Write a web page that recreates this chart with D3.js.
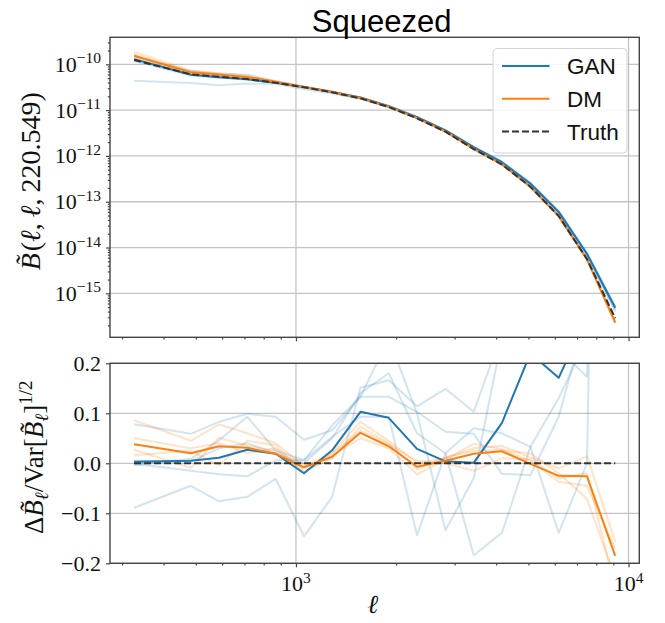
<!DOCTYPE html>
<html><head><meta charset="utf-8">
<script src="https://cdn.jsdelivr.net/npm/d3@7"></script>
<style>body{margin:0;background:#fff}</style>
</head><body>
<svg id="c" width="665" height="623"></svg>
<script>
// ---------------- DATA ----------------
const ell = [326, 483, 587, 714, 869, 1057, 1285, 1563, 1901, 2312, 2815, 3423, 4163, 5068, 6166, 7499, 9120];

const truthB = [1.24e-10, 6.05e-11, 5.36e-11, 4.77e-11, 3.97e-11, 3.15e-11, 2.45e-11, 1.81e-11, 1.17e-11, 6.63e-12, 3.38e-12, 1.41e-12, 6.49e-13, 2.13e-13, 4.88e-14, 5.61e-15, 2.85e-16];
const ganB   = [1.30e-10, 5.9e-11, 5.2e-11, 4.7e-11, 3.95e-11, 3.2e-11, 2.5e-11, 1.88e-11, 1.22e-11, 7.0e-12, 3.6e-12, 1.55e-12, 7.3e-13, 2.5e-13, 6.0e-14, 7.3e-15, 4.85e-16];
const dmB    = [1.54e-10, 6.7e-11, 6.0e-11, 5.3e-11, 4.15e-11, 3.2e-11, 2.48e-11, 1.84e-11, 1.19e-11, 6.7e-12, 3.42e-12, 1.43e-12, 6.55e-13, 2.13e-13, 4.85e-14, 5.5e-15, 2.3e-16];

const ganRealB1 = [4.4e-11, 3.9e-11, 3.5e-11, 3.8e-11, 3.75e-11, 2.85e-11, 2.3e-11, 1.75e-11, 1.15e-11, 6.8e-12, 3.5e-12, 1.5e-12, 7.0e-13, 2.4e-13, 5.6e-14, 6.5e-15, 4.0e-16];
const ganRealB2 = [1.5e-10, 7.2e-11, 6.3e-11, 5.9e-11, 4.3e-11, 3.3e-11, 2.55e-11, 1.9e-11, 1.25e-11, 7.2e-12, 3.7e-12, 1.6e-12, 7.6e-13, 2.6e-13, 6.3e-14, 7.8e-15, 5.2e-16];
const ganRealB3 = [1.35e-10, 6.2e-11, 5.6e-11, 5.0e-11, 4.0e-11, 3.2e-11, 2.5e-11, 1.86e-11, 1.2e-11, 6.9e-12, 3.55e-12, 1.52e-12, 7.2e-13, 2.45e-13, 5.8e-14, 7.0e-15, 4.6e-16];
const ganRealB4 = [1.2e-10, 5.7e-11, 5.1e-11, 4.6e-11, 3.9e-11, 3.1e-11, 2.42e-11, 1.8e-11, 1.18e-11, 6.8e-12, 3.5e-12, 1.5e-12, 7.0e-13, 2.4e-13, 5.7e-14, 6.8e-15, 4.4e-16];

const dmRealB1 = [1.9e-10, 7.3e-11, 6.3e-11, 5.6e-11, 4.3e-11, 3.25e-11, 2.5e-11, 1.85e-11, 1.2e-11, 6.7e-12, 3.4e-12, 1.42e-12, 6.5e-13, 2.12e-13, 4.8e-14, 5.4e-15, 2.2e-16];
const dmRealB2 = [1.7e-10, 6.9e-11, 6.1e-11, 5.4e-11, 4.2e-11, 3.2e-11, 2.47e-11, 1.83e-11, 1.18e-11, 6.6e-12, 3.4e-12, 1.42e-12, 6.5e-13, 2.14e-13, 4.9e-14, 5.6e-15, 2.6e-16];
const dmRealB3 = [1.45e-10, 6.4e-11, 5.8e-11, 5.1e-11, 4.05e-11, 3.15e-11, 2.45e-11, 1.81e-11, 1.17e-11, 6.6e-12, 3.38e-12, 1.41e-12, 6.45e-13, 2.1e-13, 4.8e-14, 5.5e-15, 2.4e-16];

// normalized residuals (bottom panel)
const ganRes = [0.003, 0.005, 0.011, 0.027, 0.019, -0.020, 0.026, 0.103, 0.091, 0.029, 0.004, 0.001, 0.081, 0.22, 0.171, 0.294, 0.42];
const dmRes  = [0.038, 0.020, 0.034, 0.031, 0.019, -0.008, 0.013, 0.061, 0.034, -0.007, 0.005, 0.019, 0.024, -0.001, -0.025, -0.026, -0.185];

const ganRealRes1 = [0.078, 0.059, 0.083, 0.099, 0.093, 0.047, 0.066, 0.133, 0.133, 0.103, 0.063, 0.059, -0.021, -0.024, 0.093, 0.30, 0.60];
const ganRealRes2 = [-0.089, -0.045, -0.076, -0.067, -0.031, -0.146, -0.067, 0.151, 0.166, 0.114, 0.149, 0.103, 0.26, 0.35, 0.228, 0.173, 2.0];
const ganRealRes3 = [-0.001, -0.015, -0.022, -0.026, 0.006, 0.006, 0.053, 0.093, 0.093, -0.144, 0.02, 0.07, 0.06, 0.033, -0.139, 0.0, 3.0];
const ganRealRes4 = [-0.004, 0.009, 0.046, 0.093, 0.026, 0.006, 0.076, 0.133, 0.25, 0.10, -0.134, -0.03, 0.25, 0.30, 0.25, 0.35, 0.5];
const ganRealRes5 = [0.005, 0.004, 0.030, 0.040, 0.020, 0.000, 0.050, 0.140, 0.18, 0.06, 0.02, -0.184, -0.139, 0.033, 0.13, 0.25, 0.45];

const dmRealRes1 = [0.086, 0.045, 0.078, 0.060, 0.040, -0.005, 0.020, 0.083, 0.045, 0.000, 0.010, 0.030, 0.035, 0.012, -0.010, 0.014, -0.157];
const dmRealRes2 = [0.027, -0.009, 0.051, 0.035, 0.025, -0.010, 0.015, 0.050, 0.030, -0.022, 0.008, 0.039, 0.028, 0.005, -0.037, -0.045, -0.170];
const dmRealRes3 = [0.016, 0.025, -0.004, 0.045, 0.036, -0.017, 0.010, 0.073, 0.040, -0.012, 0.012, 0.025, 0.026, 0.020, -0.020, -0.071, -0.230];
const dmRealRes4 = [0.050, 0.030, 0.040, 0.020, 0.030, -0.020, 0.020, 0.065, 0.038, 0.005, 0.000, -0.015, 0.010, 0.008, -0.030, -0.020, -0.250];

const topYDecades = [-15, -14, -13, -12, -11, -10];
const botYTicks = [-0.2, -0.1, 0.0, 0.1, 0.2];
const botYLabels = ["\u22120.2", "\u22120.1", "0.0", "0.1", "0.2"];
const xDecades = [3, 4];
const legendLabels = ["GAN", "DM", "Truth"];
const titleText = "Squeezed";

// ---------------- LAYOUT ----------------
const C_GAN = "#1f77b4", C_DM = "#ff7f0e", C_TRUTH = "#333333";
const SERIF = "'Liberation Serif','DejaVu Serif',serif";
const SANS = "'Liberation Sans',Arial,'DejaVu Sans',sans-serif";
const L = 110, R = 639.3;
const T1 = 37.3, B1 = 337.3, T2 = 363.3, B2 = 563.3;

const svg = d3.select("#c");
const lo = Math.log10(d3.min(ell)), hi = Math.log10(d3.max(ell)), pad = (hi - lo) * 0.05;
const x = d3.scaleLog().domain([10 ** (lo - pad), 10 ** (hi + pad)]).range([L, R]);
const yT = d3.scaleLog().domain([10 ** -15.96, 10 ** -9.41]).range([B1, T1]);
const yB = d3.scaleLinear().domain([-0.2, 0.2]).range([B2, T2]);

const defs = svg.append("defs");
defs.append("clipPath").attr("id", "clipT").append("rect").attr("x", L).attr("y", T1).attr("width", R - L).attr("height", B1 - T1);
defs.append("clipPath").attr("id", "clipB").append("rect").attr("x", L).attr("y", T2).attr("width", R - L).attr("height", B2 - T2);

function logMinors(dom) {
  const out = [];
  const a = Math.floor(Math.log10(dom[0])), b = Math.ceil(Math.log10(dom[1]));
  for (let e = a; e <= b; e++) for (let m = 2; m <= 9; m++) {
    const v = m * 10 ** e;
    if (v >= dom[0] && v <= dom[1]) out.push(v);
  }
  return out;
}
const xMajors = xDecades.map(e => 10 ** e);
const xMinors = logMinors(x.domain());
const yTMajors = topYDecades.map(e => 10 ** e);
const yTMinors = logMinors(yT.domain());

// ---------- grids ----------
const grid = svg.append("g").attr("stroke", "#c4c4c4").attr("stroke-width", 1.3);
yTMajors.forEach(v => grid.append("line").attr("x1", L).attr("x2", R).attr("y1", yT(v)).attr("y2", yT(v)));
botYTicks.forEach(v => grid.append("line").attr("x1", L).attr("x2", R).attr("y1", yB(v)).attr("y2", yB(v)));
xMajors.forEach(v => {
  grid.append("line").attr("x1", x(v)).attr("x2", x(v)).attr("y1", T1).attr("y2", B1);
  grid.append("line").attr("x1", x(v)).attr("x2", x(v)).attr("y1", T2).attr("y2", B2);
});

// ---------- lines ----------
const lineT = d3.line().x((d, i) => x(ell[i])).y(d => yT(d));
const lineB = d3.line().x((d, i) => x(ell[i])).y(d => yB(d));

const gT = svg.append("g").attr("clip-path", "url(#clipT)").attr("fill", "none").attr("stroke-linejoin", "round");
[ganRealB1, ganRealB2, ganRealB3, ganRealB4].forEach(s =>
  gT.append("path").attr("d", lineT(s)).attr("stroke", C_GAN).attr("stroke-opacity", 0.2).attr("stroke-width", 2));
[dmRealB1, dmRealB2, dmRealB3].forEach(s =>
  gT.append("path").attr("d", lineT(s)).attr("stroke", C_DM).attr("stroke-opacity", 0.18).attr("stroke-width", 2));
gT.append("path").attr("d", lineT(ganB)).attr("stroke", C_GAN).attr("stroke-width", 2);
gT.append("path").attr("d", lineT(dmB)).attr("stroke", C_DM).attr("stroke-width", 2);
gT.append("path").attr("d", lineT(truthB)).attr("stroke", C_TRUTH).attr("stroke-width", 2).attr("stroke-dasharray", "7,3");

const gB = svg.append("g").attr("clip-path", "url(#clipB)").attr("fill", "none").attr("stroke-linejoin", "round");
[ganRealRes1, ganRealRes2, ganRealRes3, ganRealRes4, ganRealRes5].forEach(s =>
  gB.append("path").attr("d", lineB(s)).attr("stroke", C_GAN).attr("stroke-opacity", 0.2).attr("stroke-width", 2));
[dmRealRes1, dmRealRes2, dmRealRes3, dmRealRes4].forEach(s =>
  gB.append("path").attr("d", lineB(s)).attr("stroke", C_DM).attr("stroke-opacity", 0.22).attr("stroke-width", 2));
gB.append("path").attr("d", lineB(ganRes)).attr("stroke", C_GAN).attr("stroke-width", 2);
gB.append("path").attr("d", lineB(dmRes)).attr("stroke", C_DM).attr("stroke-width", 2);
gB.append("path").attr("d", lineB(ell.map(() => 0))).attr("stroke", C_TRUTH).attr("stroke-width", 2).attr("stroke-dasharray", "7,3");

// ---------- axes ----------
function styleAxis(g) {
  g.select(".domain").remove();
  g.selectAll("line").attr("stroke", "#444").attr("stroke-width", 1.2);
}
svg.append("g").attr("transform", `translate(${L},0)`).call(d3.axisLeft(yT).tickValues(yTMajors).tickSize(4).tickFormat("")).call(styleAxis);
svg.append("g").attr("transform", `translate(${L},0)`).call(d3.axisLeft(yT).tickValues(yTMinors).tickSize(2.2).tickFormat("")).call(styleAxis);
svg.append("g").attr("transform", `translate(0,${B1})`).call(d3.axisBottom(x).tickValues(xMajors).tickSize(4).tickFormat("")).call(styleAxis);
svg.append("g").attr("transform", `translate(0,${B1})`).call(d3.axisBottom(x).tickValues(xMinors).tickSize(2.2).tickFormat("")).call(styleAxis);
svg.append("g").attr("transform", `translate(${L},0)`).call(d3.axisLeft(yB).tickValues(botYTicks).tickSize(4).tickFormat("")).call(styleAxis);
svg.append("g").attr("transform", `translate(0,${B2})`).call(d3.axisBottom(x).tickValues(xMajors).tickSize(4).tickFormat("")).call(styleAxis);
svg.append("g").attr("transform", `translate(0,${B2})`).call(d3.axisBottom(x).tickValues(xMinors).tickSize(2.2).tickFormat("")).call(styleAxis);

[[T1, B1], [T2, B2]].forEach(([t, b]) =>
  svg.append("rect").attr("x", L).attr("y", t).attr("width", R - L).attr("height", b - t)
    .attr("fill", "none").attr("stroke", "#444").attr("stroke-width", 1.4));

// ---------- tick labels ----------
function powLabel(px, py, exp, anchor) {
  const t = svg.append("text").attr("x", px).attr("y", py).attr("text-anchor", anchor)
    .attr("font-family", SERIF).attr("font-size", 22).attr("fill", "#111");
  t.append("tspan").text("10");
  t.append("tspan").attr("dy", -8.5).attr("font-size", 15.5).text(String(exp).replace("-", "\u2212"));
}
topYDecades.forEach(e => powLabel(101, yT(10 ** e) + 7.5, e, "end"));
xDecades.forEach(e => powLabel(x(10 ** e), 591, e, "middle"));
botYTicks.forEach((v, i) =>
  svg.append("text").attr("x", 101).attr("y", yB(v) + 7.5).attr("text-anchor", "end")
    .attr("font-family", SERIF).attr("font-size", 22).attr("fill", "#111").text(botYLabels[i]));

// ---------- axis labels ----------
const yl1 = svg.append("text").attr("transform", `translate(40,${(T1 + B1) / 2 - 6}) rotate(-90)`)
  .attr("text-anchor", "middle").attr("font-family", SERIF).attr("font-size", 28).attr("fill", "#111");
yl1.append("tspan").attr("font-style", "italic").text("B\u0303");
yl1.append("tspan").attr("dx", 2).text("(");
yl1.append("tspan").attr("font-style", "italic").text("\u2113");
yl1.append("tspan").text(",");
yl1.append("tspan").attr("dx", 6).attr("font-style", "italic").text("\u2113");
yl1.append("tspan").text(",");
yl1.append("tspan").attr("dx", 6).text("220.549)");

const yl2 = svg.append("text").attr("transform", `translate(43,${(T2 + B2) / 2 - 6}) rotate(-90)`)
  .attr("text-anchor", "middle").attr("font-family", SERIF).attr("font-size", 27).attr("fill", "#111");
yl2.append("tspan").text("\u0394");
yl2.append("tspan").attr("font-style", "italic").text("B\u0303");
yl2.append("tspan").attr("font-style", "italic").attr("font-size", 19).attr("dy", 5).text("\u2113");
yl2.append("tspan").attr("dy", -5).text("/Var[");
yl2.append("tspan").attr("font-style", "italic").text("B\u0303");
yl2.append("tspan").attr("font-style", "italic").attr("font-size", 19).attr("dy", 5).text("\u2113");
yl2.append("tspan").attr("dy", -5).text("]");
yl2.append("tspan").attr("font-size", 19).attr("dy", -11).text("1/2");

svg.append("text").attr("x", (L + R) / 2 - 2).attr("y", 613).attr("text-anchor", "middle")
  .attr("font-family", SERIF).attr("font-style", "italic").attr("font-size", 26).attr("fill", "#111").text("\u2113");

// ---------- title ----------
svg.append("text").attr("x", (L + R) / 2 + 7).attr("y", 32).attr("text-anchor", "middle")
  .attr("font-family", SANS).attr("font-size", 31).attr("fill", "#000").text(titleText);

// ---------- legend ----------
const lg = svg.append("g");
lg.append("rect").attr("x", 493).attr("y", 48.5).attr("width", 134).attr("height", 104.5).attr("rx", 4)
  .attr("fill", "#fff").attr("fill-opacity", 0.85).attr("stroke", "#d5d5d5").attr("stroke-width", 1);
const legStyles = [
  { c: C_GAN, dash: null }, { c: C_DM, dash: null }, { c: C_TRUTH, dash: "7,3" }
];
legendLabels.forEach((lab, i) => {
  const yy = 66 + i * 32.8;
  const ln = lg.append("line").attr("x1", 502).attr("x2", 549.5).attr("y1", yy).attr("y2", yy)
    .attr("stroke", legStyles[i].c).attr("stroke-width", 2);
  if (legStyles[i].dash) ln.attr("stroke-dasharray", legStyles[i].dash);
  lg.append("text").attr("x", 567).attr("y", yy + 8).attr("font-family", SANS).attr("font-size", 22.5)
    .attr("fill", "#111").text(lab);
});
</script>
</body></html>
